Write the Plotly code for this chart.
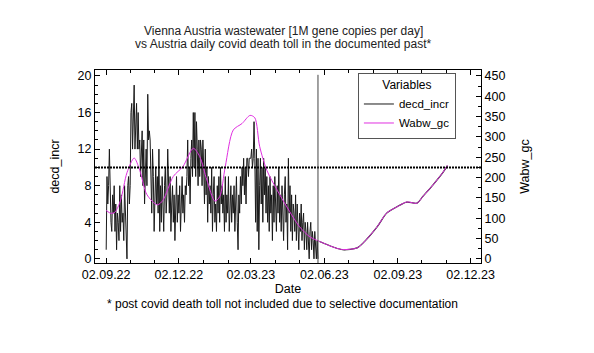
import pandas as pd
import plotly.graph_objects as go

# ---- data ----
decd_start = "2022-09-02"
decd_incr = [
    1, 9, 6, 8, 12, 7, 4, 3, 7, 5,
    8, 3, 6, 1, 5, 4, 2, 8, 3, 7,
    4, 5, 2, 8, 5, 3, 0, 8, 9, 6,
    8, 16, 17, 12, 16, 19, 12, 14, 17, 12,
    16, 12, 13, 9, 12, 14, 8, 13, 6, 11,
    12, 8, 18, 13, 14, 13, 10, 5, 12, 9,
    3, 8, 10, 6, 9, 5, 12, 3, 8, 4,
    9, 6, 3, 8, 10, 5, 7, 12, 7, 5,
    9, 3, 6, 8, 4, 7, 2, 6, 9, 4,
    7, 5, 8, 3, 6, 9, 5, 7, 4, 8,
    7, 9, 13, 8, 10, 6, 11, 13, 9, 16,
    10, 16, 9, 15, 12, 8, 13, 9, 13, 12,
    8, 13, 10, 6, 12, 7, 10, 4, 9, 6,
    8, 5, 10, 3, 7, 9, 4, 6, 3, 8,
    5, 9, 4, 10, 6, 8, 5, 7, 3, 9,
    4, 7, 5, 9, 3, 6, 8, 4, 7, 5,
    8, 3, 6, 9, 4, 1, 7, 5, 9, 6,
    10, 8, 11, 7, 10, 6, 11, 11, 9, 11,
    11, 11, 12, 10, 11, 15, 11, 4, 12, 3,
    11, 1, 8, 11, 6, 10, 4, 11, 7, 10,
    5, 9, 4, 8, 3, 9, 5, 7, 2, 8,
    4, 9, 6, 3, 8, 5, 10, 4, 7, 3,
    8, 5, 2, 7, 9, 4, 6, 1, 11, 5,
    8, 3, 7, 2, 6, 5, 3, 7, 2, 6,
    4, 1, 5, 3, 6, 2, 4, 5, 1, 4,
    3, 1, 4, 2, 0, 3, 4, 1, 3, 2,
    0, 3, 1, 0, 2, 0,
]
# after the documented period decd_incr tracks the scaled wastewater curve
decd_post_dates = ["2023-05-27", "2023-06-13", "2023-06-25", "2023-07-13", "2023-07-20",
                   "2023-08-07", "2023-08-19", "2023-09-01", "2023-09-13", "2023-09-26",
                   "2023-10-03", "2023-10-16", "2023-10-28", "2023-11-03"]
decd_post = [1.9, 1.3, 1.0, 1.2, 1.7, 3.5, 5.0, 5.7, 6.2, 6.1, 6.8, 8.1, 9.4, 10.2]

wabw_dates = ["2022-09-02", "2022-09-08", "2022-09-13", "2022-09-20", "2022-09-28",
              "2022-10-07", "2022-10-14", "2022-10-23", "2022-11-05", "2022-11-12",
              "2022-11-25", "2022-12-07", "2022-12-20", "2022-12-28", "2023-01-06",
              "2023-01-16", "2023-01-22", "2023-01-29", "2023-02-08", "2023-02-19",
              "2023-03-01", "2023-03-07", "2023-03-13", "2023-03-22", "2023-04-04",
              "2023-04-16", "2023-05-02", "2023-05-15", "2023-05-27", "2023-06-13",
              "2023-06-25", "2023-07-13", "2023-07-20", "2023-08-07", "2023-08-19",
              "2023-09-01", "2023-09-13", "2023-09-26", "2023-10-03", "2023-10-16",
              "2023-10-28", "2023-11-03"]
wabw_gc = [119, 112, 115, 144, 212, 248, 218, 158, 133, 144,
           203, 227, 272, 252, 194, 142, 153, 227, 317, 333,
           353, 347, 277, 218, 169, 128, 79, 54, 43, 29,
           23, 27, 38, 79, 113, 128, 140, 137, 153, 182,
           212, 230]

cutoff_date = "2023-05-25"
ref_level = 10
scale = 22.5

tick_dates = ["2022-09-02", "2022-12-02", "2023-03-02", "2023-06-02", "2023-09-02", "2023-12-02"]
tick_text = ["02.09.22", "02.12.22", "02.03.23", "02.06.23", "02.09.23", "02.12.23"]

title_lines = ["Vienna Austria wastewater [1M gene copies per day]",
               "vs Austria daily covid death toll in the documented past*"]
footnote = "* post covid death toll not included due to selective documentation"

# ---- figure ----
decd_dates = list(pd.date_range(decd_start, periods=len(decd_incr), freq="D"))

FONT = "Liberation Sans, Arial, sans-serif"
MAGENTA = "#e030e0"
SMOOTH = 0.8

fig = go.Figure()
fig.add_trace(go.Scatter(x=decd_dates, y=decd_incr, mode="lines", name="decd_incr",
                         legendgroup="d", line=dict(color="#1a1a1a", width=1)))
fig.add_trace(go.Scatter(x=pd.to_datetime(decd_post_dates), y=decd_post, mode="lines",
                         name="decd_incr", legendgroup="d", showlegend=False,
                         line=dict(color="#1a1a1a", width=1.2, shape="spline", smoothing=SMOOTH)))
fig.add_trace(go.Scatter(x=pd.to_datetime(wabw_dates), y=wabw_gc, mode="lines", name="Wabw_gc",
                         yaxis="y2", line=dict(color=MAGENTA, width=1, shape="spline", smoothing=SMOOTH)))

fig.add_shape(type="line", xref="paper", x0=0, x1=1, yref="y", y0=ref_level, y1=ref_level,
              line=dict(color="black", width=2, dash="2px,1px"))
fig.add_shape(type="line", xref="x", x0=cutoff_date, x1=cutoff_date, yref="paper", y0=0, y1=0.975,
              line=dict(color="#444444", width=1))

yr = [-0.45, 20.65]
fig.update_layout(
    width=594, height=353,
    margin=dict(l=95, r=113, t=70, b=90),
    paper_bgcolor="white", plot_bgcolor="white",
    font=dict(family=FONT, size=12.5, color="black"),
    xaxis=dict(type="date", range=["2022-08-19", "2023-12-15"],
               tickmode="array", tickvals=tick_dates, ticktext=tick_text,
               ticks="inside", ticklen=5, tickcolor="black", mirror="ticks",
               showline=True, linecolor="black", linewidth=1, showgrid=False, zeroline=False,
               minor=dict(tick0="2022-09-02", dtick="M1", ticks="inside", ticklen=3, tickcolor="black"),
               title=dict(text="Date", standoff=2, font=dict(size=12.5))),
    yaxis=dict(range=yr, tickmode="array", tickvals=[0, 4, 8, 12, 16, 20],
               ticks="inside", ticklen=5, tickcolor="black",
               showline=True, linecolor="black", linewidth=1, showgrid=False, zeroline=False,
               minor=dict(dtick=1, ticks="inside", ticklen=3, tickcolor="black"),
               title=dict(text="decd_incr", font=dict(size=12.5))),
    yaxis2=dict(range=[yr[0] * scale, yr[1] * scale], overlaying="y", side="right",
                tickmode="array", tickvals=list(range(0, 451, 50)),
                ticks="inside", ticklen=5, tickcolor="black",
                showline=True, linecolor="black", linewidth=1, showgrid=False, zeroline=False,
                minor=dict(dtick=25, ticks="inside", ticklen=3, tickcolor="black"),
                title=dict(text="Wabw_gc", font=dict(size=12.5))),
    legend=dict(x=0.935, xanchor="right", y=0.985, yanchor="top",
                bgcolor="white", bordercolor="#555555", borderwidth=1,
                font=dict(size=11.5), title=dict(text="Variables", side="top center", font=dict(size=12)),
                tracegroupgap=0, itemwidth=30),
    showlegend=True,
)
for txt, ypx in zip(title_lines, [31.5, 44]):
    fig.add_annotation(text=txt, xref="paper", yref="paper", x=0.488, y=(263 - ypx) / 193,
                       xanchor="center", yanchor="middle", showarrow=False,
                       font=dict(size=12, color="#222222"))
fig.add_annotation(text=footnote, xref="paper", yref="paper", x=0.485, y=-0.21,
                   xanchor="center", yanchor="middle", showarrow=False,
                   font=dict(size=12, color="black"))

fig.write_html("out.html")
